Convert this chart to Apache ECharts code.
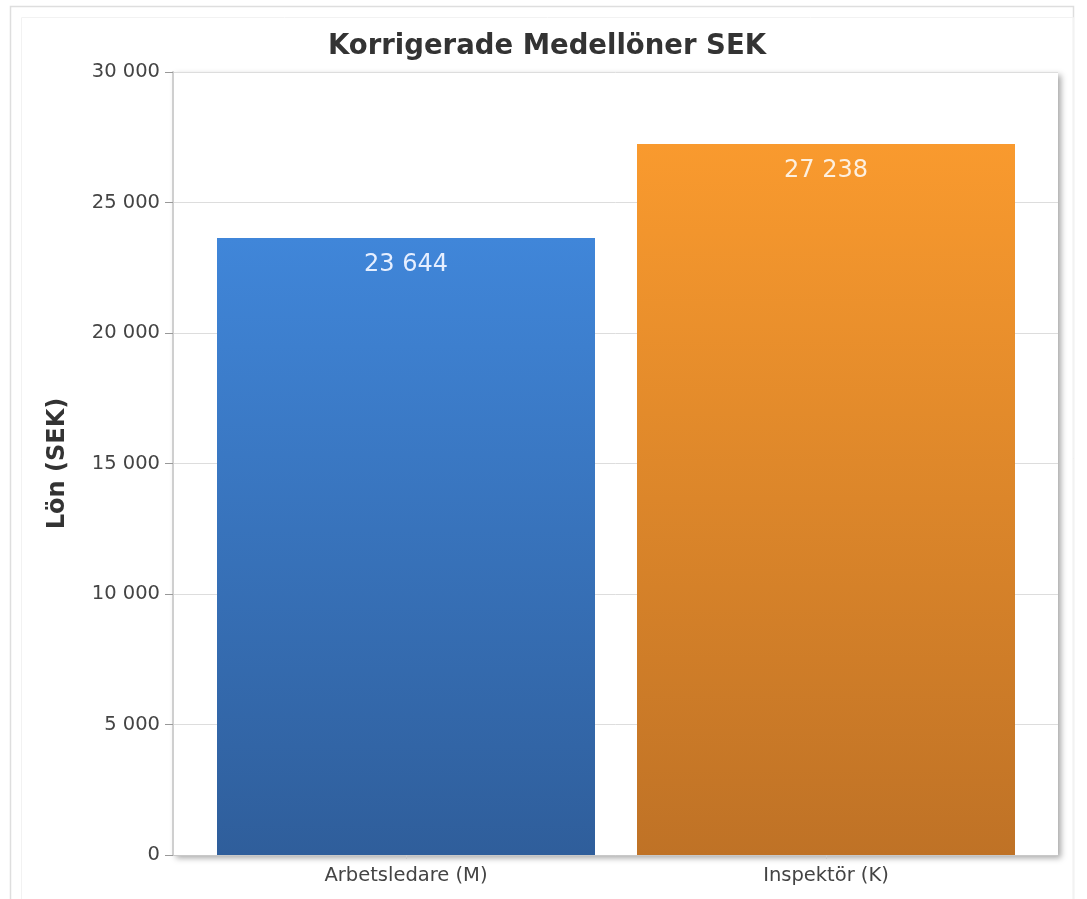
<!DOCTYPE html>
<html>
<head>
<meta charset="utf-8">
<script src="https://cdn.jsdelivr.net/npm/echarts@6/dist/echarts.min.js"></script>
<style>
  html, body { margin: 0; padding: 0; background: #ffffff; }
  #chart { width: 1087px; height: 899px; }
</style>
</head>
<body>
<div id="chart"></div>
<script>
// Average corrected salaries per role (SEK)
const categories = ['Arbetsledare (M)', 'Inspektör (K)'];
const salaries = [23644, 27238];
const yTicks = { min: 0, max: 30000, interval: 5000 };

// Vertical gradients per bar: [top, bottom]
const barGradients = [
  ['#4086d9', '#2f5e9b'],
  ['#f99a2e', '#bf7226']
];
const labelColors = ['#e6efff', '#fdf0e0'];

const FONT = '"DejaVu Sans", Verdana, sans-serif';

// Swedish-style thousands separator: "30 000"
function fmt(v) {
  return String(Math.round(v)).replace(/\B(?=(\d{3})+(?!\d))/g, ' ');
}

const chart = echarts.init(document.getElementById('chart'), null, { renderer: 'canvas' });

chart.setOption({
  animation: false,
  backgroundColor: '#ffffff',
  title: {
    text: 'Korrigerade Medellöner SEK',
    left: 328,
    top: 33,
    padding: 0,
    textStyle: { fontFamily: FONT, fontSize: 27.5, fontWeight: 'bold', color: '#333333' }
  },
  graphic: [
    { type: 'rect', silent: true, z: -10,
      shape: { x: 10.5, y: 6.5, width: 1063, height: 910 },
      style: { fill: 'none', stroke: '#dedede', lineWidth: 1.5 } },
    { type: 'rect', silent: true, z: -10,
      shape: { x: 21.5, y: 17.5, width: 1052, height: 900 },
      style: { fill: 'none', stroke: '#f2f2f2', lineWidth: 1 } }
  ],
  grid: [
    // plot frame: value axis, gridlines, shadowed background
    {
      left: 173, right: 29, top: 72, bottom: 44,
      show: true,
      backgroundColor: '#ffffff',
      borderWidth: 0,
      shadowColor: 'rgba(0,0,0,0.35)',
      shadowBlur: 6,
      shadowOffsetX: 3,
      shadowOffsetY: 3
    },
    // bar area: categories sit inset from the frame edges
    { left: 196, right: 51, top: 72, bottom: 44, show: false }
  ],
  xAxis: [
    {
      gridIndex: 0,
      type: 'value',
      min: 0, max: 1,
      axisLine: { show: true, lineStyle: { color: '#c8c8c8' } },
      axisTick: { show: false },
      axisLabel: { show: false },
      splitLine: { show: false }
    },
    {
      gridIndex: 1,
      type: 'category',
      data: categories,
      axisLine: { show: false },
      axisTick: { show: true, alignWithLabel: true, length: 4, lineStyle: { color: '#cccccc' } },
      axisLabel: { fontFamily: FONT, fontSize: 19.5, color: '#444444', margin: 11 }
    }
  ],
  yAxis: [
    {
      gridIndex: 0,
      type: 'value',
      min: yTicks.min,
      max: yTicks.max,
      interval: yTicks.interval,
      name: 'Lön (SEK)',
      nameLocation: 'middle',
      nameRotate: 90,
      nameGap: 103,
      nameTextStyle: { fontFamily: FONT, fontSize: 24, fontWeight: 'bold', color: '#333333' },
      axisLine: { show: true, lineStyle: { color: '#cfcfcf', width: 2 } },
      axisTick: { show: true, length: 8, lineStyle: { color: '#999999' } },
      axisLabel: { fontFamily: FONT, fontSize: 19.5, color: '#444444', margin: 13, formatter: fmt },
      splitLine: { show: true, lineStyle: { color: '#dddddd' } }
    },
    {
      gridIndex: 1,
      type: 'value',
      min: yTicks.min,
      max: yTicks.max,
      interval: yTicks.interval,
      show: false
    }
  ],
  series: [{
    type: 'bar',
    xAxisIndex: 1,
    yAxisIndex: 1,
    barCategoryGap: '10%',
    data: salaries.map((v, i) => ({
      value: v,
      itemStyle: {
        color: new echarts.graphic.LinearGradient(0, 0, 0, 1, [
          { offset: 0, color: barGradients[i][0] },
          { offset: 1, color: barGradients[i][1] }
        ])
      },
      label: { color: labelColors[i] }
    })),
    label: {
      show: true,
      position: 'insideTop',
      distance: 15,
      fontFamily: FONT,
      fontSize: 24,
      formatter: p => fmt(p.value)
    }
  }]
});
</script>
</body>
</html>
